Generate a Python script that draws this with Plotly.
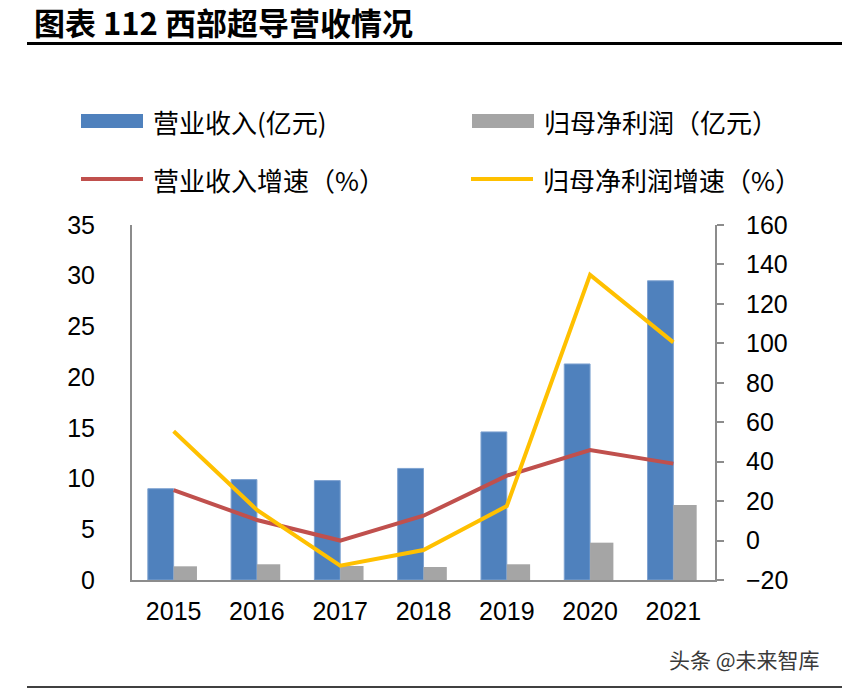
import plotly.graph_objects as go

years = ["2015", "2016", "2017", "2018", "2019", "2020", "2021"]
revenue = [9.0, 9.9, 9.8, 11.0, 14.6, 21.3, 29.5]
net_profit = [1.35, 1.55, 1.38, 1.28, 1.55, 3.68, 7.4]
revenue_growth = [25.6, 10.4, 0.0, 12.6, 32.9, 45.9, 39.0]
profit_growth = [55.4, 15.5, -12.7, -4.8, 17.5, 134.7, 100.5]

title_text = "图表 112 西部超导营收情况"
legend_names = ["营业收入(亿元)", "归母净利润（亿元）", "营业收入增速（%）", "归母净利润增速（%）"]
watermark = "头条 @未来智库"

BLUE = "#4F81BD"
GRAY = "#A5A5A5"
RED = "#C0504D"
YELLOW = "#FFC000"
AXIS = "#8C8C8C"
NUM_FONT = "Liberation Sans, Arial, sans-serif"
CJK_FONT = "Noto Sans CJK SC, sans-serif"

W, H = 842, 689
pl, pr, pt, pb = 132, 715, 225, 580

fig = go.Figure()
fig.add_trace(go.Bar(x=years, y=revenue, name=legend_names[0],
                     marker=dict(color=BLUE, line=dict(color="#7FA3D1", width=1)),
                     width=0.31, offset=-0.31, showlegend=False))
fig.add_trace(go.Bar(x=years, y=net_profit, name=legend_names[1],
                     marker=dict(color=GRAY, line=dict(width=0)),
                     width=0.28, offset=0.0, showlegend=False))
fig.add_trace(go.Scatter(x=years, y=revenue_growth, name=legend_names[2], mode="lines",
                         line=dict(color=RED, width=4), yaxis="y2", showlegend=False))
fig.add_trace(go.Scatter(x=years, y=profit_growth, name=legend_names[3], mode="lines",
                         line=dict(color=YELLOW, width=4), yaxis="y2", showlegend=False))

tickfont = dict(family=NUM_FONT, size=25, color="black")
fig.update_layout(
    width=W, height=H,
    margin=dict(l=pl, r=W - pr, t=pt, b=H - pb),
    paper_bgcolor="white", plot_bgcolor="white",
    barmode="overlay",
    xaxis=dict(type="category", range=[-0.5, 6.5], showline=True, linecolor=AXIS, linewidth=2,
               ticks="", showgrid=False, tickfont=tickfont, ticklabelstandoff=8),
    yaxis=dict(range=[0, 35], dtick=5, showline=True, linecolor=AXIS, linewidth=2, ticks="",
               showgrid=False, zeroline=False, tickfont=tickfont, ticklabelstandoff=30),
    yaxis2=dict(range=[-20, 160], dtick=20, overlaying="y", side="right", showline=True,
                linecolor=AXIS, linewidth=2, ticks="outside", ticklen=7, tickcolor=AXIS, tickwidth=1.5,
                showgrid=False, zeroline=False, tickfont=tickfont, ticklabelstandoff=17),
    showlegend=False,
)


def px_x(x):
    return (x - pl) / (pr - pl)


def px_y(y):
    return (pb - y) / (pb - pt)


shapes = []
ann = []
ann.append(dict(text="<b>" + title_text + "</b>", x=px_x(32), y=px_y(21), xref="paper", yref="paper",
                showarrow=False, xanchor="left", yanchor="middle",
                font=dict(family=CJK_FONT, size=31, color="black")))
shapes.append(dict(type="line", xref="paper", yref="paper", x0=px_x(27), x1=px_x(842),
                   y0=px_y(43.5), y1=px_y(43.5), line=dict(color="black", width=3)))
shapes.append(dict(type="line", xref="paper", yref="paper", x0=px_x(27), x1=px_x(842),
                   y0=px_y(687), y1=px_y(687), line=dict(color="black", width=1.5)))

legend_items = [
    (legend_names[0], "bar", BLUE, 81, 121),
    (legend_names[1], "bar", GRAY, 472, 121),
    (legend_names[2], "line", RED, 81, 179),
    (legend_names[3], "line", YELLOW, 471, 179),
]
for name, kind, color, lx, ly in legend_items:
    if kind == "bar":
        shapes.append(dict(type="rect", xref="paper", yref="paper", x0=px_x(lx), x1=px_x(lx + 62),
                           y0=px_y(ly + 7), y1=px_y(ly - 7), fillcolor=color, line=dict(width=0)))
    else:
        shapes.append(dict(type="line", xref="paper", yref="paper", x0=px_x(lx), x1=px_x(lx + 62),
                           y0=px_y(ly), y1=px_y(ly), line=dict(color=color, width=4)))
    ann.append(dict(text=name, x=px_x(lx + 70), y=px_y(ly + 1), xref="paper", yref="paper",
                    showarrow=False, xanchor="left", yanchor="middle",
                    font=dict(family=CJK_FONT, size=26, color="black")))

ann.append(dict(text=watermark, x=px_x(822), y=px_y(659), xref="paper", yref="paper", showarrow=False,
                xanchor="right", yanchor="middle", font=dict(family=CJK_FONT, size=21, color="#3a3a3a")))

fig.update_layout(annotations=ann, shapes=shapes)
fig.write_html("out.html", config={"displayModeBar": False},
               post_script="document.body.style.margin='0';document.body.style.overflow='hidden';")
